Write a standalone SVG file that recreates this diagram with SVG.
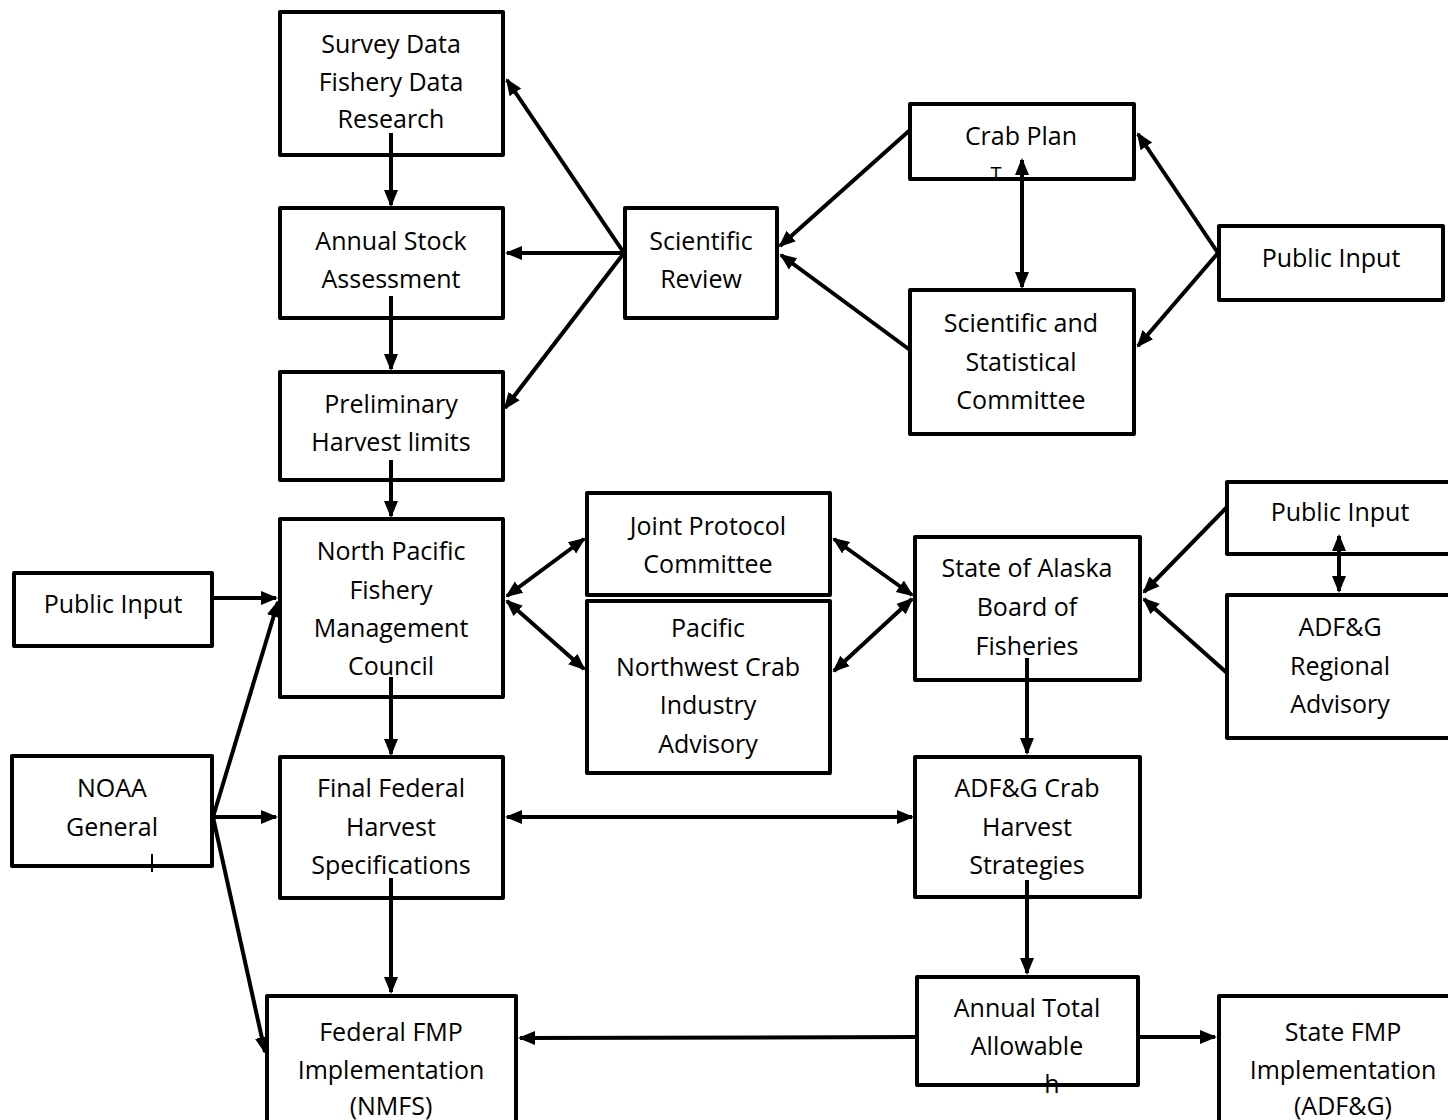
<svg xmlns="http://www.w3.org/2000/svg" width="1448" height="1120" viewBox="0 0 1448 1120">
<style>
.box{fill:#fff;stroke:#000;stroke-width:4;stroke-linejoin:round}
.t{font-family:"Open Sans","Noto Sans",sans-serif;font-size:25px;fill:#000;text-anchor:middle;dominant-baseline:central}
.c{fill:none;stroke:#000;stroke-width:4}
.s{fill:none;stroke:#000;stroke-width:2}
</style>
<defs>
<marker id="a" markerUnits="userSpaceOnUse" markerWidth="18" markerHeight="16" refX="15" refY="8" orient="auto-start-reverse" viewBox="0 0 18 16">
<path d="M0,1 L17,8 L0,15 z" fill="#000"/>
</marker>
</defs>
<g id="survey"><rect class="box" x="280" y="12" width="223" height="143"/>
<text class="t" x="391" y="43">Survey Data</text><text class="t" x="391" y="81">Fishery Data</text><text class="t" x="391" y="118">Research</text></g>
<g id="stock"><rect class="box" x="280" y="208" width="223" height="110"/>
<text class="t" x="391" y="240">Annual Stock</text><text class="t" x="391" y="278">Assessment</text></g>
<g id="prelim"><rect class="box" x="280" y="372" width="223" height="108"/>
<text class="t" x="391" y="403">Preliminary</text><text class="t" x="391" y="441">Harvest limits</text></g>
<g id="npfmc"><rect class="box" x="280" y="519" width="223" height="178"/>
<text class="t" x="391" y="550">North Pacific</text><text class="t" x="391" y="589">Fishery</text><text class="t" x="391" y="627">Management</text><text class="t" x="391" y="665">Council</text></g>
<g id="publeft"><rect class="box" x="14" y="573" width="198" height="73"/>
<text class="t" x="113" y="603">Public Input</text></g>
<g id="noaa"><rect class="box" x="12" y="756" width="200" height="110"/>
<text class="t" x="112" y="787">NOAA</text><text class="t" x="112" y="826">General</text>
<line class="s" x1="152" y1="854" x2="152" y2="872"/></g>
<g id="final"><rect class="box" x="280" y="757" width="223" height="141"/>
<text class="t" x="391" y="787">Final Federal</text><text class="t" x="391" y="826">Harvest</text><text class="t" x="391" y="864">Specifications</text></g>
<g id="fedfmp"><rect class="box" x="267" y="996" width="249" height="140"/>
<text class="t" x="391" y="1031">Federal FMP</text><text class="t" x="391" y="1069">Implementation</text><text class="t" x="391" y="1105">(NMFS)</text></g>
<g id="sciview"><rect class="box" x="625" y="208" width="152" height="110"/>
<text class="t" x="701" y="240">Scientific</text><text class="t" x="701" y="278">Review</text></g>
<g id="crabplan"><rect class="box" x="910" y="104" width="224" height="75"/>
<text class="t" x="1021" y="135">Crab Plan</text>
<text class="t" x="996" y="173" style="font-size:20px">T</text></g>
<g id="ssc"><rect class="box" x="910" y="290" width="224" height="144"/>
<text class="t" x="1021" y="322">Scientific and</text><text class="t" x="1021" y="361">Statistical</text><text class="t" x="1021" y="399">Committee</text></g>
<g id="pubtop"><rect class="box" x="1219" y="226" width="224" height="74"/>
<text class="t" x="1331" y="257">Public Input</text></g>
<g id="joint"><rect class="box" x="587" y="493" width="243" height="102"/>
<text class="t" x="708" y="525">Joint Protocol</text><text class="t" x="708" y="563">Committee</text></g>
<g id="pacific"><rect class="box" x="587" y="601" width="243" height="172"/>
<text class="t" x="708" y="627">Pacific</text><text class="t" x="708" y="666">Northwest Crab</text><text class="t" x="708" y="704">Industry</text><text class="t" x="708" y="743">Advisory</text></g>
<g id="state"><rect class="box" x="915" y="537" width="225" height="143"/>
<text class="t" x="1027" y="567">State of Alaska</text><text class="t" x="1027" y="606">Board of</text><text class="t" x="1027" y="645">Fisheries</text></g>
<g id="pubmid"><rect class="box" x="1227" y="482" width="230" height="72"/>
<text class="t" x="1340" y="511">Public Input</text></g>
<g id="regional"><rect class="box" x="1227" y="595" width="230" height="143"/>
<text class="t" x="1340" y="626">ADF&amp;G</text><text class="t" x="1340" y="665">Regional</text><text class="t" x="1340" y="703">Advisory</text></g>
<g id="adfgcrab"><rect class="box" x="915" y="757" width="225" height="140"/>
<text class="t" x="1027" y="787">ADF&amp;G Crab</text><text class="t" x="1027" y="826">Harvest</text><text class="t" x="1027" y="864">Strategies</text></g>
<g id="tac"><rect class="box" x="917" y="977" width="221" height="108"/>
<text class="t" x="1027" y="1007">Annual Total</text><text class="t" x="1027" y="1045">Allowable</text>
<text class="t" x="1052" y="1083">h</text></g>
<g id="statefmp"><rect class="box" x="1219" y="996" width="240" height="140"/>
<text class="t" x="1343" y="1031">State FMP</text><text class="t" x="1343" y="1069">Implementation</text><text class="t" x="1343" y="1105">(ADF&amp;G)</text></g>
<g id="connectors">
<line class="c" x1="391" y1="133" x2="391" y2="205" marker-end="url(#a)"/>
<line class="c" x1="391" y1="296" x2="391" y2="369" marker-end="url(#a)"/>
<line class="c" x1="391" y1="460" x2="391" y2="516" marker-end="url(#a)"/>
<line class="c" x1="391" y1="677" x2="391" y2="754" marker-end="url(#a)"/>
<line class="c" x1="391" y1="878" x2="391" y2="992" marker-end="url(#a)"/>
<line class="c" x1="624" y1="253" x2="507" y2="80" marker-end="url(#a)"/>
<line class="c" x1="624" y1="253" x2="507" y2="253" marker-end="url(#a)"/>
<line class="c" x1="624" y1="253" x2="505" y2="408" marker-end="url(#a)"/>
<line class="c" x1="910" y1="130" x2="780" y2="246" marker-end="url(#a)"/>
<line class="c" x1="910" y1="350" x2="781" y2="255" marker-end="url(#a)"/>
<line class="c" x1="1022" y1="160" x2="1022" y2="287" marker-start="url(#a)" marker-end="url(#a)"/>
<line class="c" x1="1218" y1="253" x2="1138" y2="134" marker-end="url(#a)"/>
<line class="c" x1="1218" y1="253" x2="1138" y2="346" marker-end="url(#a)"/>
<line class="c" x1="212" y1="598" x2="276" y2="598" marker-end="url(#a)"/>
<line class="c" x1="213" y1="817" x2="278" y2="602" marker-end="url(#a)"/>
<line class="c" x1="213" y1="817" x2="276" y2="817" marker-end="url(#a)"/>
<line class="c" x1="213" y1="817" x2="265" y2="1052" marker-end="url(#a)"/>
<line class="c" x1="507" y1="596" x2="584" y2="539" marker-start="url(#a)" marker-end="url(#a)"/>
<line class="c" x1="507" y1="601" x2="584" y2="669" marker-start="url(#a)" marker-end="url(#a)"/>
<line class="c" x1="834" y1="539" x2="912" y2="595" marker-start="url(#a)" marker-end="url(#a)"/>
<line class="c" x1="834" y1="671" x2="912" y2="599" marker-start="url(#a)" marker-end="url(#a)"/>
<line class="c" x1="1227" y1="507" x2="1144" y2="592" marker-end="url(#a)"/>
<line class="c" x1="1227" y1="673" x2="1144" y2="599" marker-end="url(#a)"/>
<line class="c" x1="1339" y1="536" x2="1339" y2="591" marker-start="url(#a)" marker-end="url(#a)"/>
<line class="c" x1="1027" y1="658" x2="1027" y2="753" marker-end="url(#a)"/>
<line class="c" x1="507" y1="817" x2="912" y2="817" marker-start="url(#a)" marker-end="url(#a)"/>
<line class="c" x1="1027" y1="880" x2="1027" y2="973" marker-end="url(#a)"/>
<line class="c" x1="917" y1="1037" x2="520" y2="1038" marker-end="url(#a)"/>
<line class="c" x1="1138" y1="1037" x2="1215" y2="1037" marker-end="url(#a)"/>
</g>
</svg>
